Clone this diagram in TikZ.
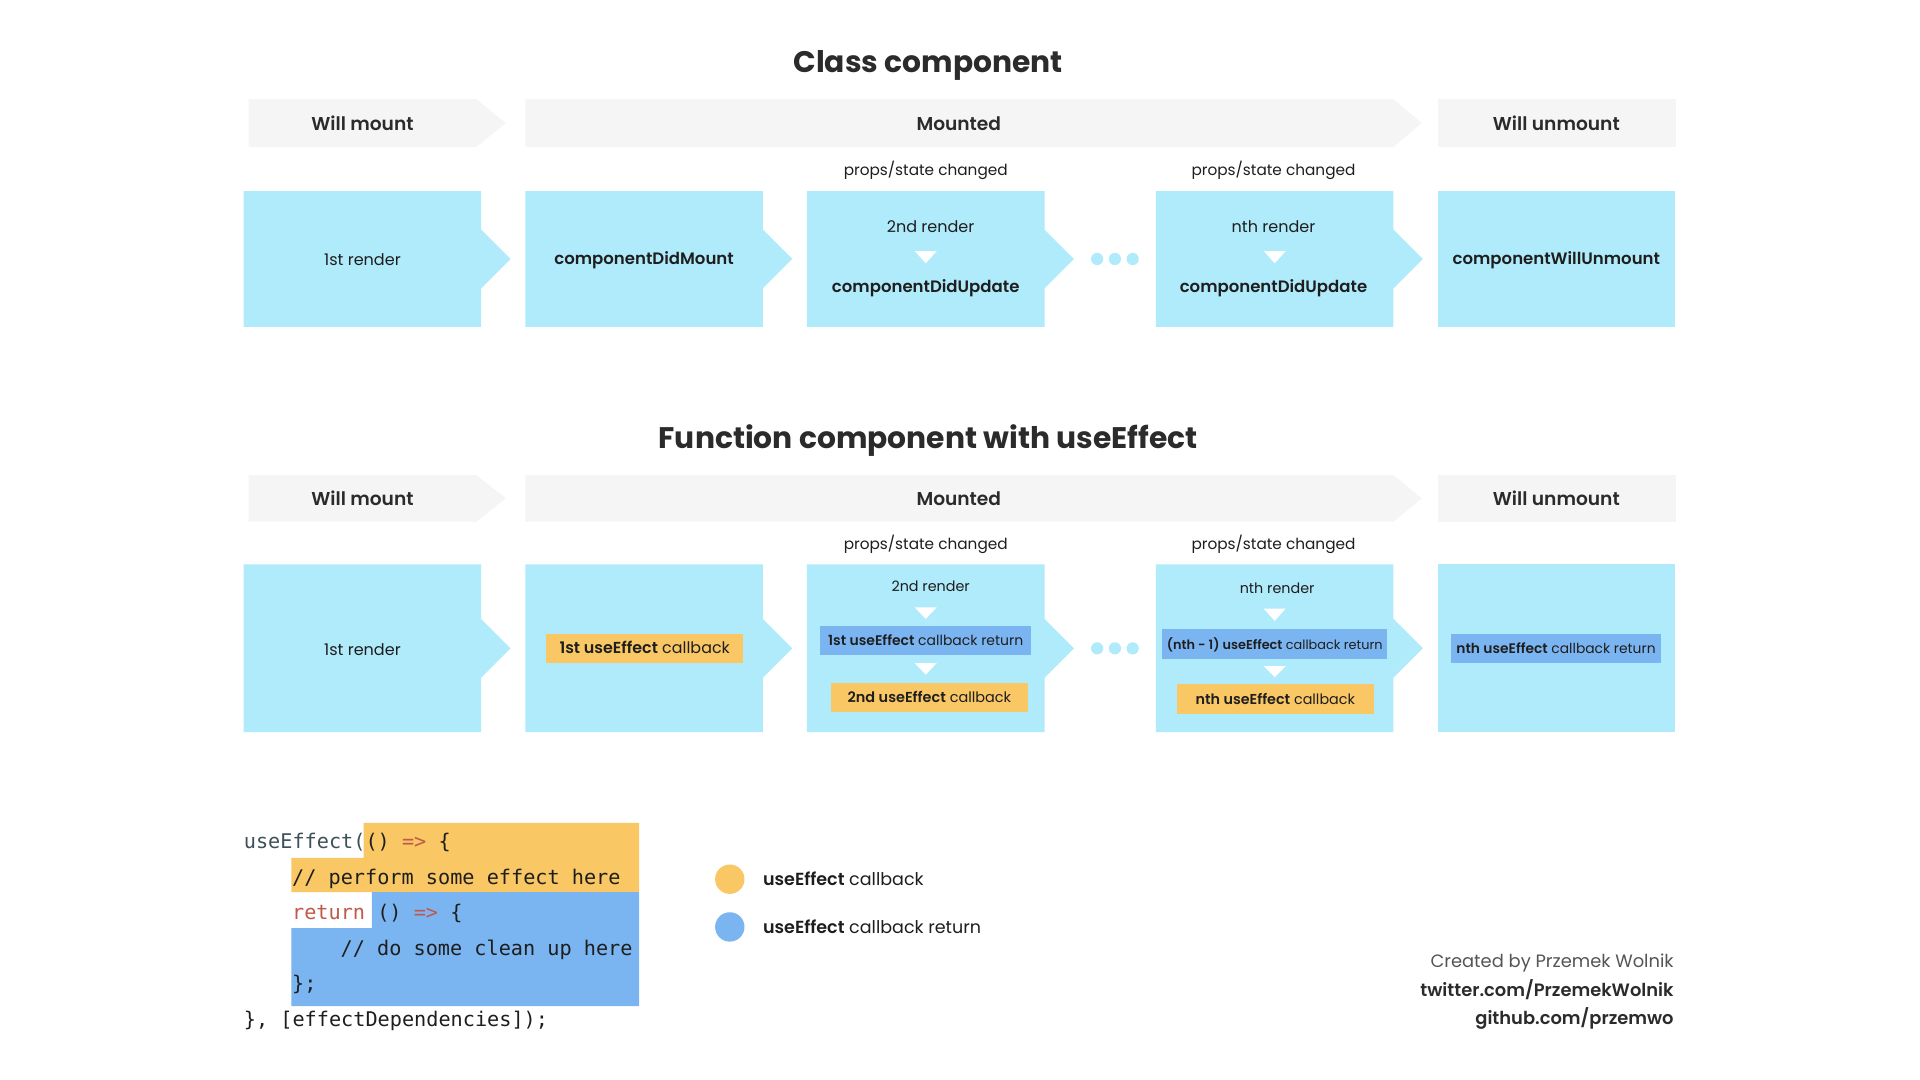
\documentclass[tikz,border=0pt]{standalone}
\usepackage{fontspec}
\setmainfont{Poppins}
\newfontfamily\sbf{Poppins SemiBold}
\setmonofont{DejaVu Sans Mono}
\definecolor{stageblue}{HTML}{B0EBFC}
\definecolor{bandgray}{HTML}{F5F5F5}
\definecolor{yel}{HTML}{F9C764}
\definecolor{blu}{HTML}{7BB5F1}
\definecolor{ink}{HTML}{1E1E1E}
\definecolor{hink}{HTML}{2B2B2B}
\definecolor{soft}{HTML}{555555}
\definecolor{codekw}{HTML}{C0594A}
\definecolor{codefn}{HTML}{3E5059}
\tikzset{
  stagefill/.style={fill=stageblue},
  bandfill/.style={fill=bandgray},
  txt/.style={inner sep=0pt, text=ink, text height=0.85em, text depth=0.15em},
  dn/.style={txt, yshift=-1.5pt},
  title/.style={dn, text=hink, font=\fontsize{24.3}{28}\bfseries},
  hdr/.style={dn, text=hink, font=\fontsize{15.2}{18}\sbf},
  prop/.style={dn, font=\fontsize{12.5}{15}\selectfont},
  rlbl/.style={dn, font=\fontsize{13.1}{16}\selectfont},
  slbl/.style={dn, font=\fontsize{11.7}{14}\selectfont},
  blbl/.style={dn, font=\fontsize{13.5}{16}\sbf},
  tag/.style={inner sep=0pt, text=ink, text height=0.95em, text depth=0.05em, minimum height=24pt},
  ytag/.style={tag, fill=yel},
  btag/.style={tag, fill=blu},
  code/.style={inner sep=0pt, anchor=base west, text=ink, font=\fontsize{16.5}{19}\ttfamily},
  leg/.style={dn, anchor=west, font=\fontsize{14.3}{17}\selectfont},
  cred/.style={dn, anchor=east, font=\fontsize{14.6}{17}\selectfont},
  wtri/.style={fill=white},
  dot/.style={fill=stageblue}
}
\newcommand{\B}[1]{{\sbf #1}}
\newcommand{\fs}[1]{\fontsize{#1}{#1}\selectfont}
\begin{document}
\begin{tikzpicture}[x=1pt,y=-1pt]
\useasboundingbox (0,0) rectangle (1568,882);
\fill[white] (0,0) rectangle (1568,882);

% ---------- titles
\node[title] (title1) at (758,54) {Class component};
\node[title] (title2) at (758,361) {Function component with useEffect};

% ---------- header bands (both rows)
\foreach \t/\b in {81/120, 388/426}{
  \pgfmathsetmacro{\c}{(\t+\b)/2}
  \fill[bandfill] (203,\t) -- (389,\t) -- (413,\c) -- (389,\b) -- (203,\b) -- cycle;
  \fill[bandfill] (429,\t) -- (1138,\t) -- (1161,\c) -- (1138,\b) -- (429,\b) -- cycle;
  \fill[bandfill] (1174,\t) rectangle (1369,\b);
}
\node[hdr] (h1a) at (296,101.5) {Will mount};
\node[hdr] (h1b) at (783,101.5) {Mounted};
\node[hdr] (h1c) at (1271,101.5) {Will unmount};
\node[hdr] (h2a) at (296,408) {Will mount};
\node[hdr] (h2b) at (783,408) {Mounted};
\node[hdr] (h2c) at (1271,408) {Will unmount};

\node[prop] (p1a) at (756,138) {props/state changed};
\node[prop] (p1b) at (1040,138) {props/state changed};
\node[prop] (p2a) at (756,444) {props/state changed};
\node[prop] (p2b) at (1040,444) {props/state changed};

% ---------- stage boxes
\foreach \t/\b in {156/267, 461/598}{
  \pgfmathsetmacro{\c}{(\t+\b)/2}
  \foreach \L in {199,429,659,944}{
    \fill[stagefill] (\L,\t) -| ({\L+194},{\c-24}) -- ({\L+218},\c) -- ({\L+194},{\c+24}) |- (\L,\b) -- cycle;
  }
  \fill[stagefill] (1174,\t) rectangle (1368,\b);
  \foreach \x in {896,910.5,925}{ \fill[dot] (\x,\c) circle (5pt); }
}

% ---------- row 1 contents
\node[rlbl] (r1a) at (296,211.5) {1st render};
\node[blbl] (r1b) at (526,211) {componentDidMount};
\node[rlbl] (r1c1) at (760,185) {2nd render};
\node[blbl] (r1c2) at (756,234) {componentDidUpdate};
\fill[wtri] (747,205) -- (765,205) -- (756,215) -- cycle;
\node[rlbl] (r1d1) at (1040,185) {nth render};
\node[blbl] (r1d2) at (1040,234) {componentDidUpdate};
\fill[wtri] (1032,205) -- (1050,205) -- (1041,215) -- cycle;
\node[blbl] (r1e) at (1271,211) {componentWillUnmount};

% ---------- row 2 contents
\node[rlbl] (r2a) at (296,530) {1st render};
\node[ytag, minimum width=161pt, font=\fs{13}] (r2b) at (526.5,529.5) {\B{1st useEffect} callback};
\node[slbl] (r2c0) at (760,478) {2nd render};
\node[btag, minimum width=172pt, font=\fs{11.4}] (r2c1) at (756,523) {\B{1st useEffect} callback return};
\node[ytag, minimum width=161pt, font=\fs{11.8}] (r2c2) at (759,569.5) {\B{2nd useEffect} callback};
\fill[wtri] (747,496) -- (765,496) -- (756,505.5) -- cycle;
\fill[wtri] (747,541.5) -- (765,541.5) -- (756,551) -- cycle;
\node[slbl] (r2d0) at (1043,480) {nth render};
\node[btag, minimum width=184pt, font=\fs{10.5}] (r2d1) at (1041,526) {\B{(nth - 1) useEffect} callback return};
\node[ytag, minimum width=161pt, font=\fs{11.7}] (r2d2) at (1041.5,571) {\B{nth useEffect} callback};
\fill[wtri] (1032,497) -- (1050,497) -- (1041,507) -- cycle;
\fill[wtri] (1032,544) -- (1050,544) -- (1041,553) -- cycle;
\node[btag, minimum width=171.5pt, font=\fs{11.3}] (r2e) at (1270.75,529.5) {\B{nth useEffect} callback return};

% ---------- code sample
\fill[yel] (297,672) -- (522,672) -- (522,728.5) -- (238,728.5) -- (238,700.6) -- (297,700.6) -- cycle;
\fill[blu] (303.6,728.5) -- (522,728.5) -- (522,821.6) -- (238,821.6) -- (238,758) -- (303.6,758) -- cycle;
\node[code] (c1) at (199,693) {\textcolor{codefn}{useEffect(}() \textcolor{codekw}{=>} \{};
\node[code] (c2) at (238.4,722) {// perform some effect here};
\node[code] (c3) at (238.4,751) {\textcolor{codekw}{return} () \textcolor{codekw}{=>} \{};
\node[code] (c4) at (278,780) {// do some clean up here};
\node[code] (c5) at (238.4,809) {\};};
\node[code] (c6) at (199,838) {\}, [effectDependencies]);};

% ---------- legend
\fill[yel] (596,718) circle (12pt);
\fill[blu] (596,757) circle (12pt);
\node[leg] (l1) at (623,718) {\B{useEffect} callback};
\node[leg] (l2) at (623,757) {\B{useEffect} callback return};

% ---------- credits
\node[cred, text=soft] (cr1) at (1367,785) {Created by Przemek Wolnik};
\node[cred, text=hink, font=\fs{14.6}\sbf] (cr2) at (1367,808.5) {twitter.com/PrzemekWolnik};
\node[cred, text=hink, font=\fs{14.6}\sbf] (cr3) at (1367,832) {github.com/przemwo};
\end{tikzpicture}
\end{document}
